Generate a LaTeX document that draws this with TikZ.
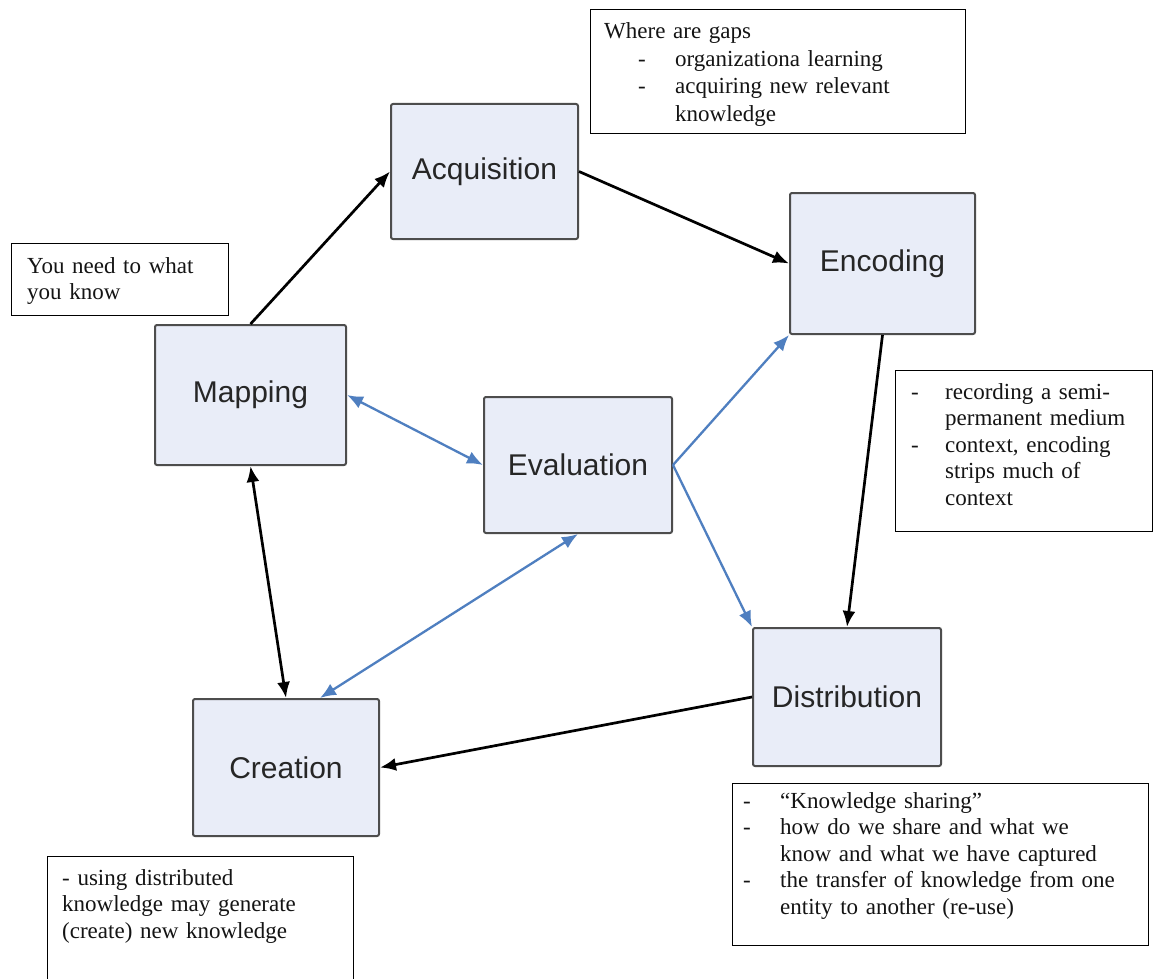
\documentclass[tikz,border=0pt]{standalone}
\usepackage{fontspec}
\setmainfont{Liberation Serif}
\newfontfamily\stagefont{Liberation Sans}
\usetikzlibrary{arrows.meta,calc}
\setlength{\parindent}{0pt}
\definecolor{boxfill}{HTML}{E9EDF8}
\definecolor{boxline}{HTML}{4D4D4D}
\definecolor{flowblue}{HTML}{4F7FC0}
\definecolor{labelgray}{HTML}{262626}
\newcommand{\notefont}{\fontsize{23}{26.5}\selectfont}
\newcommand{\widenotefont}{\fontsize{23}{27.5}\selectfont}

\begin{document}
\begin{tikzpicture}[x=1pt,y=-1pt,
  stage/.style={draw=boxline, line width=2pt, fill=boxfill, rounded corners=2pt,
    font=\stagefont\fontsize{30}{36}\selectfont, text=labelgray, inner sep=0pt},
  notebox/.style={draw=black, line width=1.4pt, fill=white, inner sep=0pt, anchor=north west},
  notetext/.style={anchor=north west, inner sep=0pt, align=left, text width=#1,
    font=\notefont, text=black!92},
  blk/.style={draw=black, line width=2.7pt, >={Latex[length=16pt,width=13pt]}},
  blu/.style={draw=flowblue, line width=2.3pt, >={Latex[length=16pt,width=13pt]}},
]
% page
\fill[white] (0,0) rectangle (1156,979);
\useasboundingbox (0,0) rectangle (1156,979);

% process stages
\node[stage, minimum width=187pt, minimum height=135pt] (acq)  at (484.5,171.5) {Acquisition};
\node[stage, minimum width=185pt, minimum height=141pt] (enc)  at (882.5,263.5) {Encoding};
\node[stage, minimum width=191pt, minimum height=140pt] (map)  at (250.5,395)   {Mapping};
\node[stage, minimum width=188pt, minimum height=136pt] (eva)  at (578,465)     {Evaluation};
\node[stage, minimum width=188pt, minimum height=138pt] (dist) at (847,697)     {Distribution};
\node[stage, minimum width=186pt, minimum height=137pt] (cre)  at (286,767.5)   {Creation};

% main cycle
\draw[blk,->] (map.north) -- (acq.west);
\draw[blk,->] (acq.east) -- (enc.west);
\draw[blk,->] (enc.south) -- (dist.north);
\draw[blk,->] (dist.west) -- (cre.east);
\draw[blk,<->] (map.south) -- (cre.north);

% evaluation links
\draw[blu,<->] (map.east) -- (eva.west);
\draw[blu,->] (eva.east) -- (enc.south west);
\draw[blu,->] (eva.east) -- (dist.north west);
\draw[blu,<->] (eva.south) -- ($(cre.north)+(34,0)$);

% annotation boxes
\node[notebox, minimum width=375pt, minimum height=124pt] (gapsbox) at (590,9) {};
\node[notetext=360pt, font=\widenotefont] (gaps) at (604,19.5) {\strut Where are gaps\\
  \hspace*{34pt}\makebox[37pt][l]{-}organizationa learning\\
  \hspace*{34pt}\makebox[37pt][l]{-}acquiring new relevant\\
  \hspace*{71pt}knowledge};

\node[notebox, minimum width=217pt, minimum height=72pt] (knowbox) at (11,243) {};
\node[notetext=200pt] (know) at (27,254.5) {\strut You need to what\\ you know};

\node[notebox, minimum width=257pt, minimum height=161pt] (encbox) at (895,370) {};
\node[notetext=240pt] (enctext) at (911,380.5) {\strut\makebox[34pt][l]{-}recording a semi-\\
  \hspace*{34pt}permanent medium\\
  \makebox[34pt][l]{-}context, encoding\\
  \hspace*{34pt}strips much of\\
  \hspace*{34pt}context};

\node[notebox, minimum width=416pt, minimum height=162pt] (sharebox) at (732,783) {};
\node[notetext=400pt] (share) at (743,789.5) {\strut\makebox[37pt][l]{-}“Knowledge sharing”\\
  \makebox[37pt][l]{-}how do we share and what we\\
  \hspace*{37pt}know and what we have captured\\
  \makebox[37pt][l]{-}the transfer of knowledge from one\\
  \hspace*{37pt}entity to another (re-use)};

\begin{scope}
  \clip (0,0) rectangle (1156,979);
  \node[notebox, minimum width=306pt, minimum height=150pt] (usebox) at (47,856) {};
\end{scope}
\node[notetext=290pt] (use) at (62,866.5) {\strut - using distributed\\
  knowledge may generate\\
  (create) new knowledge};
\end{tikzpicture}
\end{document}
